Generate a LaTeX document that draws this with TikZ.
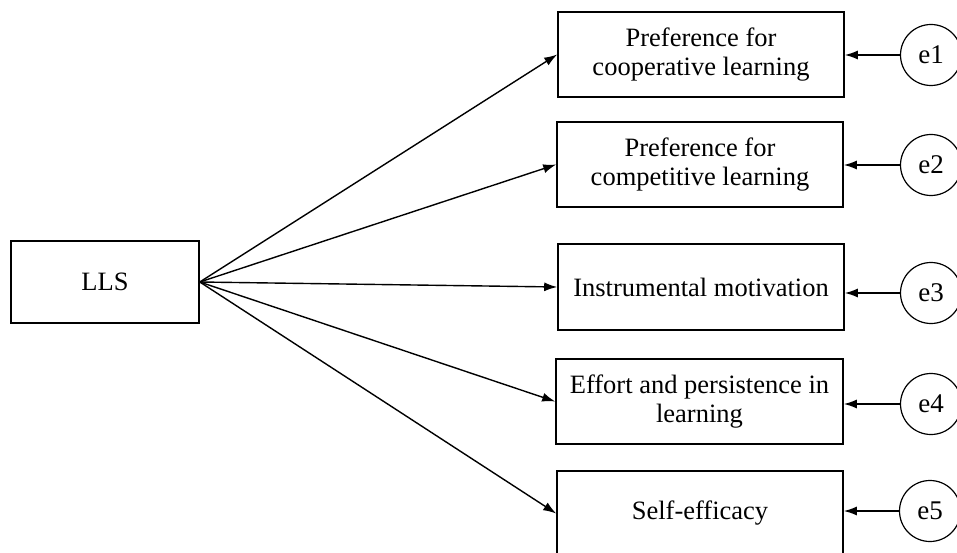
\documentclass[tikz,border=0pt]{standalone}
\usepackage{fontspec}
\setmainfont{Liberation Serif}
\usetikzlibrary{arrows.meta}
\begin{document}
\begin{tikzpicture}[x=1pt,y=-1pt,
  box/.style={draw, line width=1.6pt, rectangle, minimum width=286pt, minimum height=85pt, inner sep=0pt, align=center, font=\fontsize{26.5}{29}\selectfont},
  err/.style={draw, line width=1.2pt, circle, minimum size=61pt, inner sep=0pt, font=\fontsize{27}{29}\selectfont},
  arr/.style={line width=1.4pt, -{Latex[length=13pt,width=9pt]}}
]
\useasboundingbox (0,0) rectangle (957,553);
\node[box, minimum width=188pt, minimum height=82pt] (lls) at (105,282) {LLS};
\node[box] (b1) at (701,54.5) {Preference for\\cooperative learning};
\node[box] (b2) at (700,164.5) {Preference for\\competitive learning};
\node[box, minimum height=86pt] (b3) at (701,287) {Instrumental motivation};
\node[box, minimum width=287pt] (b4) at (699.5,401.5) {Effort and persistence in\\learning};
\node[box] (b5) at (700,513.5) {Self-efficacy};
\node[err] (e1) at (931,55) {e1};
\node[err] (e2) at (931,165) {e2};
\node[err] (e3) at (931,293) {e3};
\node[err] (e4) at (931,404) {e4};
\node[err] (e5) at (930,511) {e5};
\foreach \b in {b1,b2,b3,b4,b5}
  \draw[arr] (lls.east) -- (\b.west);
\foreach \e/\b in {e1/b1,e2/b2,e3/b3,e4/b4,e5/b5}
  \draw[arr] (\e.west) -- (\e.west -| \b.east);
\end{tikzpicture}
\end{document}
